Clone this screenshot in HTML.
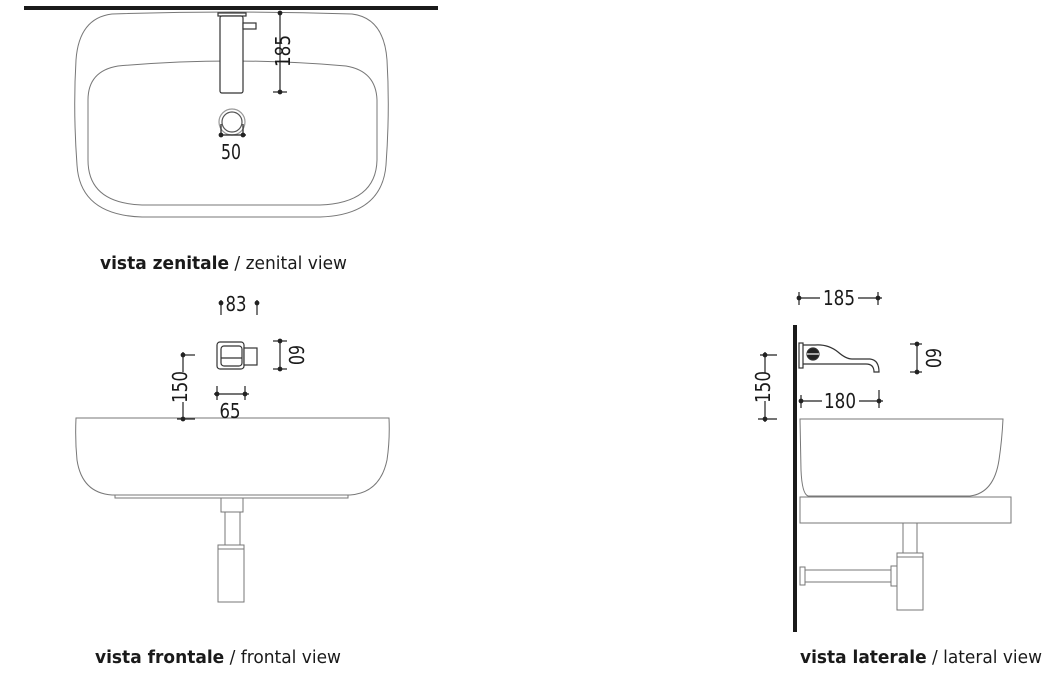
<!DOCTYPE html>
<html><head><meta charset="utf-8"><style>
html,body{margin:0;padding:0;background:#fff;width:1064px;height:676px;overflow:hidden}
svg{display:block}
text{font-family:"DejaVu Sans Condensed","Liberation Sans",sans-serif;fill:#1a1a1a}
</style></head><body>
<svg width="1064" height="676" viewBox="0 0 1064 676" xmlns="http://www.w3.org/2000/svg">
<g fill="none" stroke="#777" stroke-width="1">
<!-- top view -->
<path d="M112 14 Q232 10 352 14 Q384 18 387 60 Q390 110 386 165 Q382 215 320 217 L142 217 Q80 215 77 165 Q73 110 76 60 Q79 18 112 14 Z"/>
<path d="M118 66 Q232 56 346 66 Q376 71 377 100 L377 160 Q376 203 320 205 L142 205 Q88 203 88 160 L88 100 Q88 71 118 66 Z"/>
</g>
<rect x="24" y="6" width="414" height="4" fill="#1a1a1a"/>
<g fill="#fff" stroke="#333" stroke-width="1.2">
<rect x="218" y="13" width="28" height="3"/>
<rect x="220" y="16" width="23" height="77" rx="2"/>
<rect x="243" y="23" width="13" height="6"/>
<circle cx="232" cy="122" r="13" stroke="#999"/>
<circle cx="232" cy="122" r="10" stroke="#555"/>
</g>
<g stroke="#222" stroke-width="1.2" fill="#222">
<line x1="280" y1="12" x2="280" y2="92"/><line x1="273" y1="92" x2="287" y2="92"/>
<circle cx="280" cy="13" r="1.8"/><circle cx="280" cy="92" r="1.8"/>
<line x1="219" y1="135" x2="246" y2="135"/><line x1="221" y1="124" x2="221" y2="137"/><line x1="243" y1="124" x2="243" y2="137"/>
<circle cx="221" cy="135" r="1.8"/><circle cx="243" cy="135" r="1.8"/>
</g>
<text x="283" y="58" font-size="20" text-anchor="middle" textLength="32" lengthAdjust="spacingAndGlyphs" transform="rotate(-90 283 51)">185</text>
<text x="231" y="159" font-size="20" text-anchor="middle" textLength="20" lengthAdjust="spacingAndGlyphs">50</text>
<text x="100" y="269" font-size="18" textLength="247" lengthAdjust="spacingAndGlyphs"><tspan font-weight="bold">vista zenitale</tspan> / zenital view</text>

<!-- frontal -->
<g fill="none" stroke="#777" stroke-width="1">
<path d="M76 418 L389 418 Q390 440 387 460 Q380 493 350 495 L112 495 Q82 493 77 460 Q75 440 76 418 Z"/>
<rect x="115" y="495" width="233" height="3"/>
<rect x="221" y="498" width="22" height="14"/>
<rect x="225" y="512" width="15" height="33"/>
<rect x="218" y="545" width="26" height="57"/>
<line x1="218" y1="549" x2="244" y2="549"/>
</g>
<g fill="#fff" stroke="#333" stroke-width="1.2">
<rect x="217" y="342" width="27" height="27" rx="3"/>
<rect x="221" y="346" width="21" height="20" rx="3"/>
<line x1="221" y1="358" x2="242" y2="358"/>
<rect x="244" y="348" width="13" height="17"/>
</g>
<g stroke="#222" stroke-width="1.2" fill="#222">
<line x1="221" y1="300" x2="221" y2="315"/><circle cx="221" cy="303" r="1.8"/>
<line x1="257" y1="300" x2="257" y2="315"/><circle cx="257" cy="303" r="1.8"/>
<line x1="280" y1="341" x2="280" y2="369"/><line x1="273" y1="341" x2="287" y2="341"/><line x1="273" y1="369" x2="287" y2="369"/>
<circle cx="280" cy="341" r="1.8"/><circle cx="280" cy="369" r="1.8"/>
<line x1="183" y1="352" x2="183" y2="372"/><line x1="183" y1="402" x2="183" y2="421"/>
<line x1="183" y1="355" x2="195" y2="355"/><line x1="177" y1="419" x2="195" y2="419"/>
<circle cx="183" cy="355" r="1.8"/><circle cx="183" cy="419" r="1.8"/>
<line x1="214" y1="394" x2="249" y2="394"/><line x1="217" y1="386" x2="217" y2="400"/><line x1="245" y1="386" x2="245" y2="400"/>
<circle cx="217" cy="394" r="1.8"/><circle cx="245" cy="394" r="1.8"/>
</g>
<text x="236" y="311" font-size="20" text-anchor="middle" textLength="21" lengthAdjust="spacingAndGlyphs">83</text>
<text x="296" y="362" font-size="20" text-anchor="middle" textLength="20" lengthAdjust="spacingAndGlyphs" transform="rotate(90 296 355)">60</text>
<text x="180" y="394" font-size="20" text-anchor="middle" textLength="32" lengthAdjust="spacingAndGlyphs" transform="rotate(-90 180 387)">150</text>
<text x="230" y="418" font-size="20" text-anchor="middle" textLength="21" lengthAdjust="spacingAndGlyphs">65</text>
<text x="95" y="663" font-size="18" textLength="246" lengthAdjust="spacingAndGlyphs"><tspan font-weight="bold">vista frontale</tspan> / frontal view</text>

<!-- lateral -->
<g fill="none" stroke="#777" stroke-width="1">
<path d="M800 419 L1003 419 Q1002 440 999 460 Q994 493 970 496 L808 496 Q802 494 801 470 Z"/>
<rect x="800" y="497" width="211" height="26"/>
<rect x="903" y="523" width="14" height="30"/>
<rect x="897" y="553" width="26" height="57"/>
<line x1="897" y1="557" x2="923" y2="557"/>
<rect x="800" y="567" width="5" height="18"/>
<rect x="805" y="570" width="86" height="12"/>
<rect x="891" y="566" width="6" height="20"/>
</g>
<rect x="793" y="325" width="4" height="307" fill="#1a1a1a"/>
<g fill="none" stroke="#333" stroke-width="1.2">
<rect x="799" y="343" width="4" height="25" fill="#fff"/>
<path d="M803 345 L815 345 Q828 344 838 352 Q846 359 852 359 L870 359 Q879 360 879 372 L874 372 Q874 364 866 364 L803 364"/>
<circle cx="813" cy="354" r="6" fill="#222"/>
<line x1="807" y1="354" x2="819" y2="354" stroke="#fff"/>
</g>
<g stroke="#222" stroke-width="1.2" fill="#222">
<line x1="799" y1="292" x2="799" y2="305"/><line x1="878" y1="292" x2="878" y2="305"/>
<line x1="799" y1="298" x2="820" y2="298"/><line x1="858" y1="298" x2="882" y2="298"/>
<circle cx="799" cy="298" r="1.8"/><circle cx="878" cy="298" r="1.8"/>
<line x1="917" y1="344" x2="917" y2="372"/><line x1="910" y1="344" x2="922" y2="344"/><line x1="910" y1="372" x2="922" y2="372"/>
<circle cx="917" cy="344" r="1.8"/><circle cx="917" cy="372" r="1.8"/>
<line x1="765" y1="352" x2="765" y2="373"/><line x1="765" y1="401" x2="765" y2="422"/>
<line x1="760" y1="355" x2="777" y2="355"/><line x1="758" y1="419" x2="777" y2="419"/>
<circle cx="765" cy="355" r="1.8"/><circle cx="765" cy="419" r="1.8"/>
<line x1="801" y1="395" x2="801" y2="408"/><line x1="879" y1="390" x2="879" y2="408"/>
<line x1="801" y1="401" x2="822" y2="401"/><line x1="859" y1="401" x2="883" y2="401"/>
<circle cx="801" cy="401" r="1.8"/><circle cx="879" cy="401" r="1.8"/>
</g>
<text x="839" y="305" font-size="20" text-anchor="middle" textLength="32" lengthAdjust="spacingAndGlyphs">185</text>
<text x="933" y="365" font-size="20" text-anchor="middle" textLength="20" lengthAdjust="spacingAndGlyphs" transform="rotate(90 933 358)">60</text>
<text x="763" y="394" font-size="20" text-anchor="middle" textLength="32" lengthAdjust="spacingAndGlyphs" transform="rotate(-90 763 387)">150</text>
<text x="840" y="408" font-size="20" text-anchor="middle" textLength="32" lengthAdjust="spacingAndGlyphs">180</text>
<text x="800" y="663" font-size="18" textLength="242" lengthAdjust="spacingAndGlyphs"><tspan font-weight="bold">vista laterale</tspan> / lateral view</text>
</svg>
</body></html>
